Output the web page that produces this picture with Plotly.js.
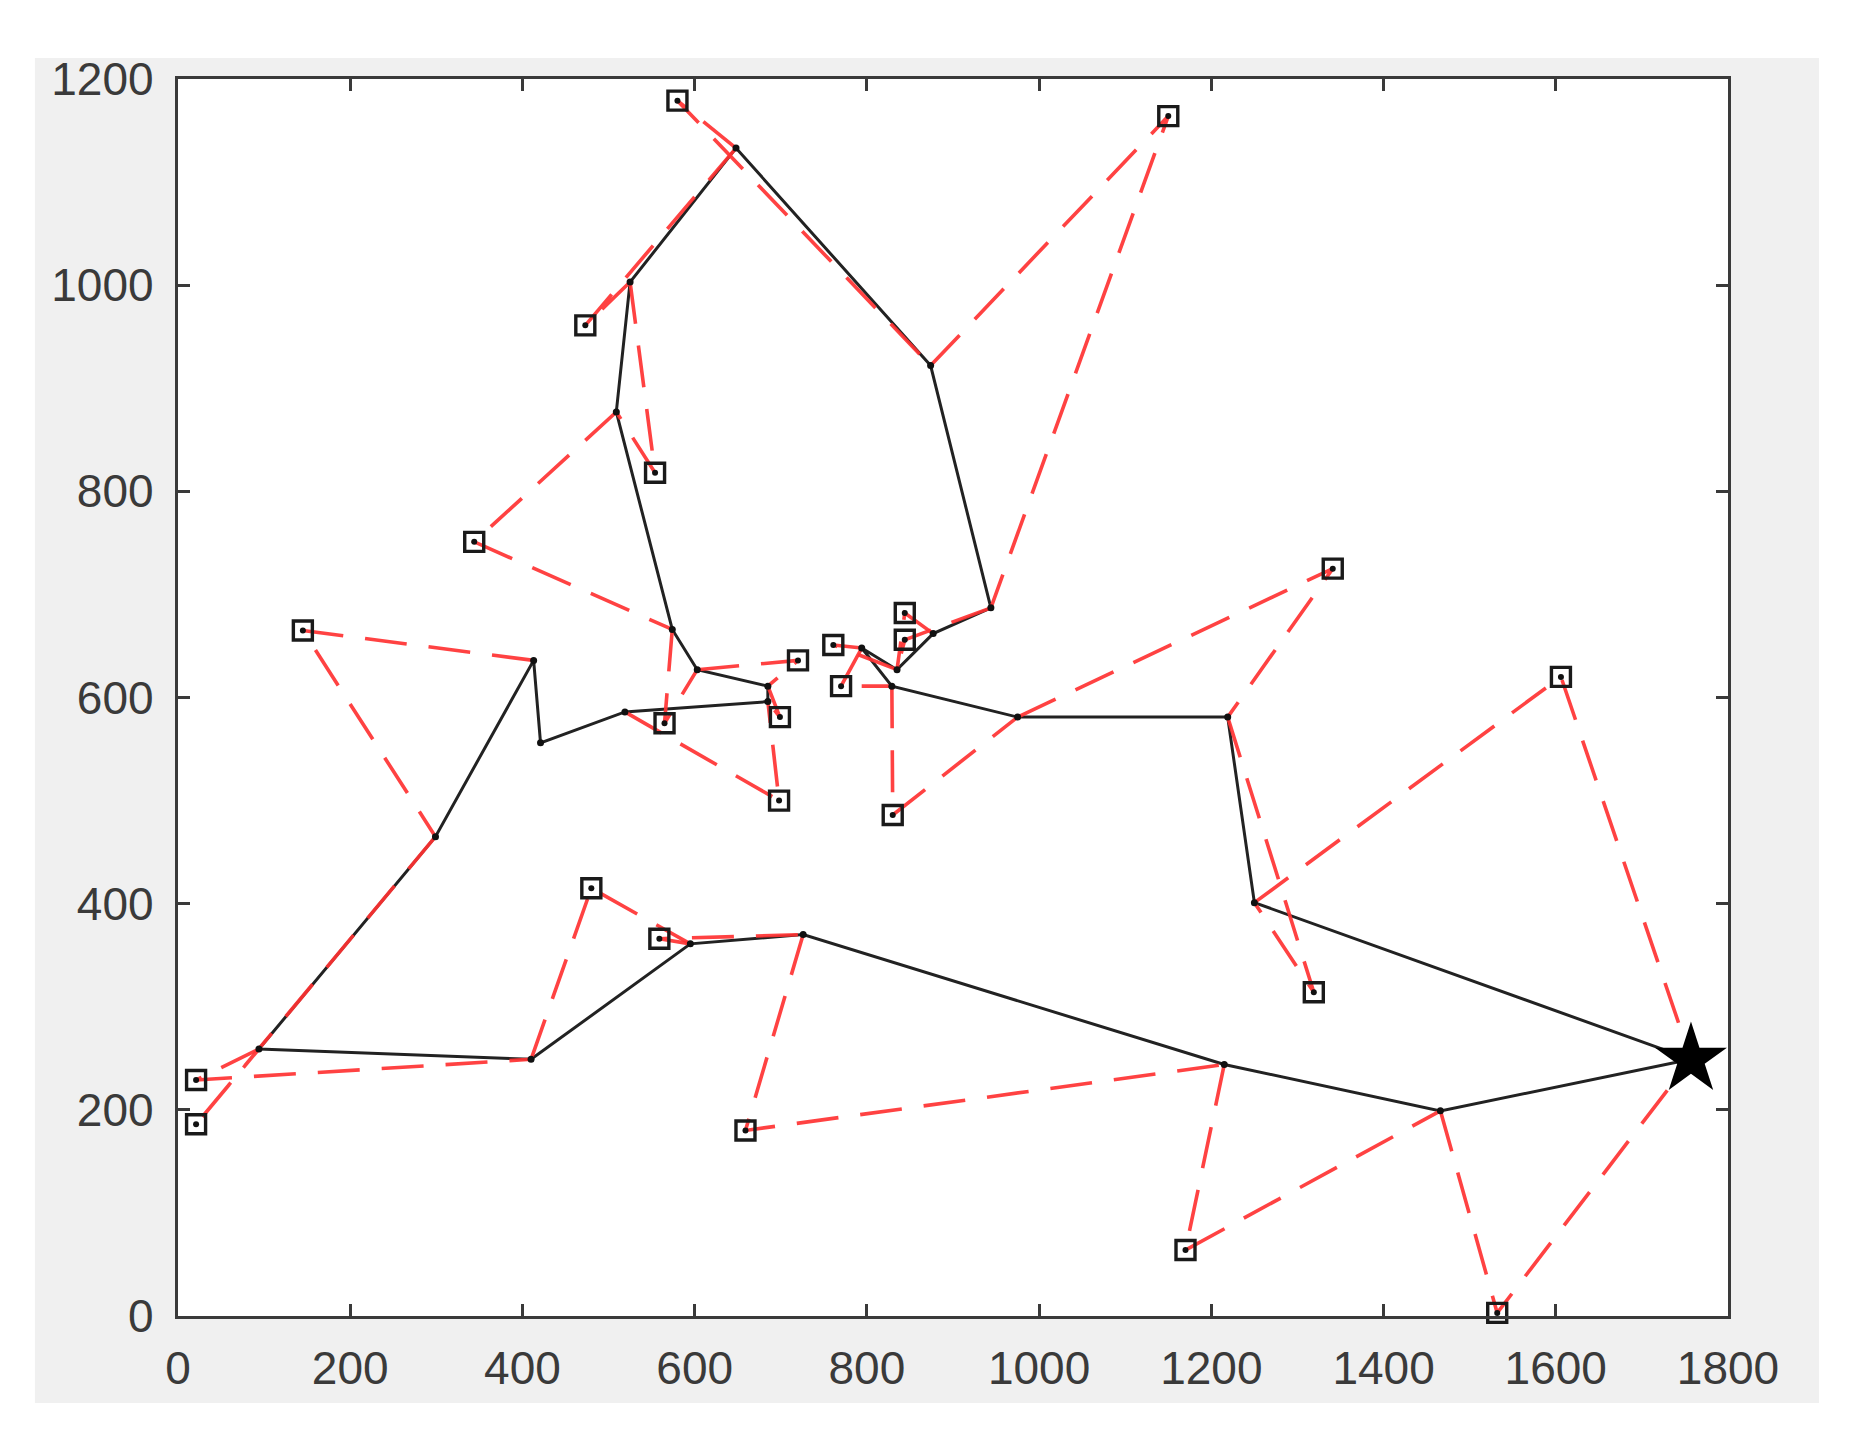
<!DOCTYPE html>
<html>
<head>
<meta charset="utf-8">
<script src="https://cdn.plot.ly/plotly-3.0.1.min.js"></script>
<style>
html,body{margin:0;padding:0;background:#ffffff;}
#chart{width:1862px;height:1448px;}
</style>
</head>
<body>
<div id="chart"></div>
<script>
// Truck route nodes (index 0 = depot, drawn as a star); route is closed back to node 0
const truckX = [1757, 1466, 1215, 726, 595, 410, 94, 299, 413, 421, 519, 685, 685, 603, 574, 509, 525, 648, 874, 944, 877, 835, 794, 829, 975, 1219, 1250];
const truckY = [249, 199, 244, 370, 361, 249, 259, 465, 636, 556, 586, 596, 611, 627, 666, 877, 1003, 1133, 922, 687, 662, 627, 648, 611, 581, 581, 401];

// Customer points (black squares)
const custX = [580, 1150, 473, 554, 344, 145, 844, 844, 761, 720, 770, 565, 699, 698, 830, 1341, 1606, 480, 559, 1319, 21, 21, 659, 1170, 1532];
const custY = [1179, 1164, 961, 818, 751, 665, 682, 656, 651, 636, 611, 575, 581, 500, 486, 725, 620, 415, 366, 314, 229, 186, 180, 64, 3];

// Drone sorties: for customer i, launched from truck node sortieLaunch[i], back to truck node sortieReturn[i]
const sortieLaunch = [17, 18, 17, 16, 15, 8, 20, 19, 21, 13, 22, 14, 12, 10, 23, 24, 26, 5, 4, 25, 6, 7, 3, 2, 1];
const sortieReturn = [18, 19, 16, 15, 14, 7, 21, 21, 22, 12, 23, 13, 11, 11, 24, 25, 0, 4, 3, 26, 5, 6, 2, 1, 0];

const xTicks = [0, 200, 400, 600, 800, 1000, 1200, 1400, 1600, 1800];
const yTicks = [0, 200, 400, 600, 800, 1000, 1200];

// Build traces
const routeX = truckX.concat([truckX[0]]);
const routeY = truckY.concat([truckY[0]]);

const droneX = [], droneY = [];
for (let i = 0; i < custX.length; i++) {
  droneX.push(truckX[sortieLaunch[i]], custX[i], truckX[sortieReturn[i]], null);
  droneY.push(truckY[sortieLaunch[i]], custY[i], truckY[sortieReturn[i]], null);
}

const traces = [
  {
    type: 'scatter', mode: 'lines', x: routeX, y: routeY,
    line: {color: '#222222', width: 3}, hoverinfo: 'skip', cliponaxis: false
  },
  {
    type: 'scatter', mode: 'lines', x: droneX, y: droneY, connectgaps: false,
    line: {color: 'rgba(255,50,50,0.92)', width: 3.6, dash: '42px,22px'}, hoverinfo: 'skip', cliponaxis: false
  },
  {
    type: 'scatter', mode: 'markers', x: truckX.slice(1), y: truckY.slice(1),
    marker: {symbol: 'circle', size: 7, color: '#111111'}, hoverinfo: 'skip', cliponaxis: false
  },
  {
    type: 'scatter', mode: 'markers', x: custX, y: custY,
    marker: {symbol: 'square-open', size: 19, color: '#1a1a1a', line: {width: 3.4, color: '#1a1a1a'}},
    hoverinfo: 'skip', cliponaxis: false
  },
  {
    type: 'scatter', mode: 'markers', x: custX, y: custY,
    marker: {symbol: 'circle', size: 6, color: '#111111'}, hoverinfo: 'skip', cliponaxis: false
  },
  {
    type: 'scatter', mode: 'markers', x: [truckX[0]], y: [truckY[0]],
    marker: {symbol: 'star', size: 54, color: '#000000', line: {width: 0}}, hoverinfo: 'skip', cliponaxis: false
  }
];

const axisCommon = {
  showgrid: false, zeroline: false,
  showline: true, linecolor: '#3a3a3a', linewidth: 3.2, mirror: 'ticks',
  ticks: 'inside', ticklen: 12, tickwidth: 3, tickcolor: '#3a3a3a',
  tickfont: {family: 'Liberation Sans, Arial, sans-serif', size: 46, color: '#3a3a3a'},
  fixedrange: true
};

const layout = {
  width: 1862, height: 1448,
  margin: {l: 178, r: 134, t: 79, b: 132},
  paper_bgcolor: '#ffffff', plot_bgcolor: '#ffffff',
  showlegend: false,
  xaxis: Object.assign({}, axisCommon, {range: [0, 1800], tickmode: 'array', tickvals: xTicks, ticktext: xTicks.map(String), ticklabelstandoff: 10}),
  yaxis: Object.assign({}, axisCommon, {range: [0, 1200], tickmode: 'array', tickvals: yTicks, ticktext: yTicks.map(String), ticklabelstandoff: 12}),
  shapes: [
    {type: 'rect', xref: 'paper', yref: 'paper', x0: -0.0923, x1: 1.0587, y0: -0.0703, y1: 1.017,
     fillcolor: '#f0f0f0', line: {width: 0}, layer: 'below'},
    {type: 'rect', xref: 'paper', yref: 'paper', x0: 0, x1: 1, y0: 0, y1: 1,
     fillcolor: '#ffffff', line: {width: 0}, layer: 'below'}
  ]
};

Plotly.newPlot('chart', traces, layout, {displayModeBar: false, staticPlot: true});
</script>
</body>
</html>
